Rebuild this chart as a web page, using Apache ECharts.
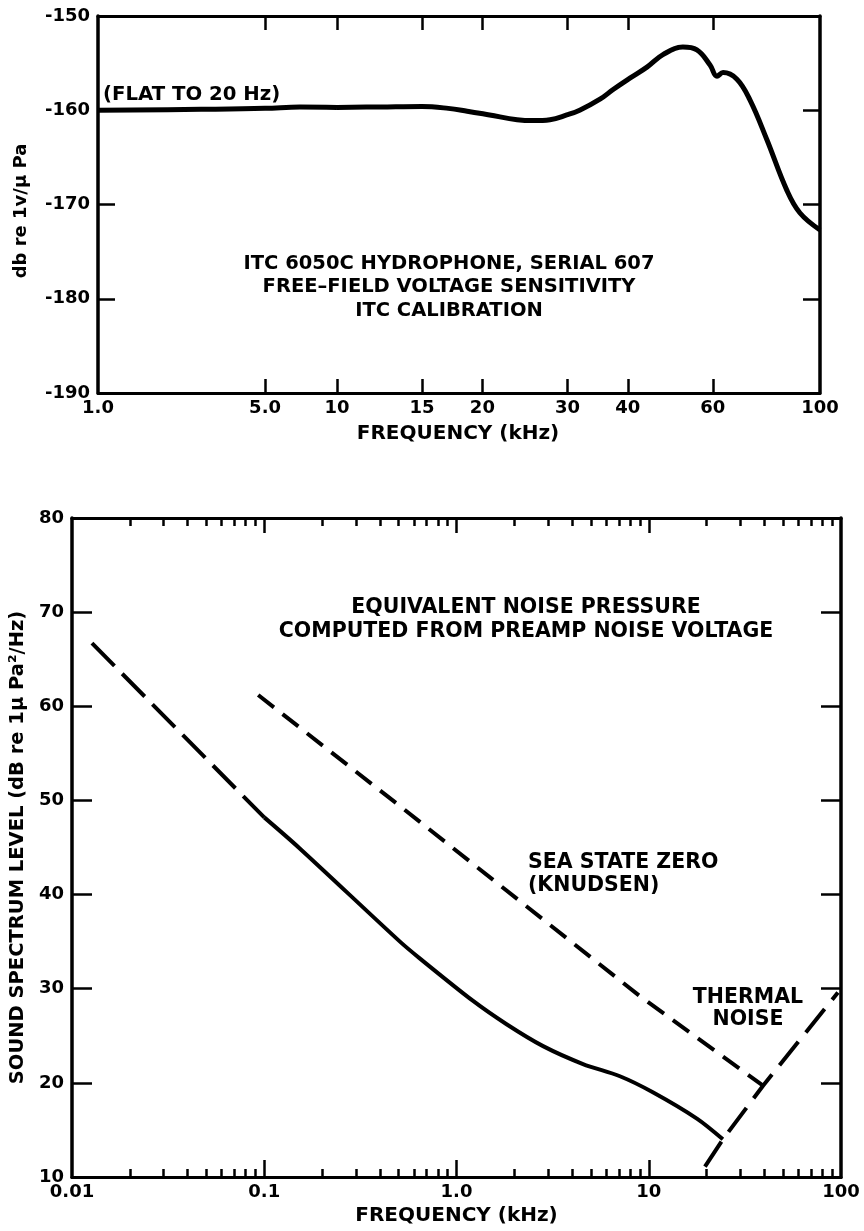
<!DOCTYPE html>
<html>
<head>
<meta charset="utf-8">
<script src="https://cdn.jsdelivr.net/npm/echarts@6/dist/echarts.min.js"></script>
<style>
html,body{margin:0;padding:0;background:#fff;}
#chart{width:864px;height:1231px;}
</style>
</head>
<body>
<div id="chart"></div>
<script>
// ---------- DATA ----------
// Top chart: ITC 6050C free-field voltage sensitivity
const topFreqKHz = [1, 2.7, 5, 7, 10, 12.3, 15, 17, 18.6, 20.7, 23.6, 25.5, 27.6, 29.9, 31.8, 35.1, 37.3, 40.4, 43.9, 47.3, 52, 55.6, 59.2, 61.2, 63, 67.3, 71.6, 77.6, 85.4, 90.9, 100];
const topSensitivity = [-160, -159.9, -159.8, -159.65, -159.7, -159.65, -159.6, -159.8, -160.1, -160.5, -161.0, -161.1, -161.0, -160.5, -160.0, -158.8, -157.8, -156.6, -155.4, -154.1, -153.3, -153.6, -155.2, -156.4, -156.0, -156.7, -158.9, -163.1, -168.5, -170.9, -172.7];
const topXTickValues = [5, 10, 15, 20, 30, 40, 60];
const topXLabelValues = [1, 5, 10, 15, 20, 30, 40, 60, 100];
const topXLabels = ['1.0', '5.0', '10', '15', '20', '30', '40', '60', '100'];

// Bottom chart: sound spectrum levels
const preampExtrapFreq = [0.0127, 0.1];
const preampExtrapLevel = [66.7, 48.2];
const preampFreq = [0.1, 0.153, 0.508, 0.646, 1.22, 1.83, 2.82, 4.55, 7.08, 10.5, 17.8, 24.3];
const preampLevel = [48.2, 44.9, 35.0, 33.2, 28.7, 26.2, 23.9, 22.0, 20.7, 19.0, 16.2, 14.0];
const seaStateFreq = [0.093, 0.508, 9.0, 39.3];
const seaStateLevel = [61.2, 49.4, 29.2, 19.7];
const thermalFreq = [19.6, 24.3, 39.3, 96.4];
const thermalLevel = [11.1, 14.0, 19.7, 29.6];
const botMajorTicks = [0.1, 1, 10];
const botMinorTicks = [0.02, 0.03, 0.04, 0.05, 0.06, 0.07, 0.08, 0.09,
                       0.2, 0.3, 0.4, 0.5, 0.6, 0.7, 0.8, 0.9,
                       2, 3, 4, 5, 6, 7, 8, 9,
                       20, 30, 40, 50, 60, 70, 80, 90];
const botXLabelValues = [0.01, 0.1, 1, 10, 100];
const botXLabels = ['0.01', '0.1', '1.0', '10', '100'];

// ---------- CHART ----------
const FONT = '"DejaVu Sans", "Liberation Sans", Arial, sans-serif';
const BLACK = '#000';
const pair = (xs, ys) => xs.map((x, i) => [x, ys[i]]);
const topPts = pair(topFreqKHz, topSensitivity);

function labelFmt(vals, labels) {
  return function (v) {
    for (let i = 0; i < vals.length; i++) {
      if (Math.abs(vals[i] - v) <= 1e-6 * vals[i]) return labels[i];
    }
    return '';
  };
}

const labelStyle = { color: BLACK, fontFamily: FONT, fontWeight: 'bold', fontSize: 18 };

function logX(gridIndex, position, min, max, ticks, tickLen, labelVals, labels) {
  return {
    type: 'log', logBase: 10, gridIndex, position, min, max,
    axisLine: { show: true, lineStyle: { color: BLACK, width: 3 } },
    axisTick: { show: true, inside: true, length: tickLen, customValues: ticks,
                lineStyle: { color: BLACK, width: 2.5 } },
    axisLabel: labelVals ? Object.assign({ show: true, margin: 6, customValues: labelVals,
                formatter: labelFmt(labelVals, labels) }, labelStyle) : { show: false },
    splitLine: { show: false }, minorTick: { show: false }
  };
}
function linY(gridIndex, position, min, max, tickLen, showLabels) {
  return {
    type: 'value', gridIndex, position, min, max, interval: 10,
    axisLine: { show: true, lineStyle: { color: BLACK, width: 3.5 } },
    axisTick: { show: true, inside: true, length: tickLen, lineStyle: { color: BLACK, width: 2.5 } },
    axisLabel: showLabels ? Object.assign({ show: true, margin: 8 }, labelStyle) : { show: false },
    splitLine: { show: false }
  };
}

const option = {
  animation: false,
  backgroundColor: '#fff',
  grid: [
    { left: 98, top: 16, width: 239, height: 377 },
    { left: 337, top: 16, width: 483, height: 377 },
    { left: 72, top: 518, width: 769, height: 660 }
  ],
  xAxis: [
    logX(0, 'bottom', 1, 10, [5, 10], 14, [1, 5], topXLabels.slice(0, 2)),
    logX(0, 'top', 1, 10, [5, 10], 14, null),
    logX(1, 'bottom', 10, 100, topXTickValues.slice(1), 14, topXLabelValues.slice(2), topXLabels.slice(2)),
    logX(1, 'top', 10, 100, topXTickValues.slice(1), 14, null),
    Object.assign(logX(2, 'bottom', 0.01, 100, botMajorTicks, 17, botXLabelValues, botXLabels), {
      name: 'FREQUENCY (kHz)', nameLocation: 'middle', nameGap: 29,
      nameTextStyle: { color: BLACK, fontFamily: FONT, fontWeight: 'bold', fontSize: 20 }
    }),
    logX(2, 'bottom', 0.01, 100, botMinorTicks, 8, null),
    logX(2, 'top', 0.01, 100, botMajorTicks, 15, null),
    logX(2, 'top', 0.01, 100, botMinorTicks, 8, null)
  ],
  yAxis: [
    linY(0, 'left', -190, -150, 17, true),
    linY(1, 'right', -190, -150, 17, false),
    Object.assign(linY(2, 'left', 10, 80, 20, true), {
      name: 'SOUND SPECTRUM LEVEL (dB re 1\u03bc Pa\u00b2/Hz)', nameLocation: 'middle', nameRotate: 90, nameGap: 38,
      nameTextStyle: { color: BLACK, fontFamily: FONT, fontWeight: 'bold', fontSize: 19.5 }
    }),
    linY(2, 'right', 10, 80, 20, false)
  ],
  series: [
    { type: 'line', xAxisIndex: 0, yAxisIndex: 0, data: topPts.filter(p => p[0] <= 10),
      smooth: 0.4, symbol: 'none', lineStyle: { color: BLACK, width: 5 } },
    { type: 'line', xAxisIndex: 2, yAxisIndex: 1, data: topPts.filter(p => p[0] >= 10),
      smooth: 0.4, symbol: 'none', lineStyle: { color: BLACK, width: 5 } },
    { type: 'line', xAxisIndex: 4, yAxisIndex: 2, data: pair(preampExtrapFreq, preampExtrapLevel),
      symbol: 'none', lineStyle: { color: BLACK, width: 4, type: [32, 11] } },
    { type: 'line', xAxisIndex: 4, yAxisIndex: 2, data: pair(preampFreq, preampLevel),
      smooth: 0.3, symbol: 'none', lineStyle: { color: BLACK, width: 4 } },
    { type: 'line', xAxisIndex: 4, yAxisIndex: 2, data: pair(seaStateFreq, seaStateLevel),
      symbol: 'none', lineStyle: { color: BLACK, width: 4, type: [20, 11] } },
    { type: 'line', xAxisIndex: 4, yAxisIndex: 2, data: pair(thermalFreq, thermalLevel),
      symbol: 'none', lineStyle: { color: BLACK, width: 4, type: [30, 12] } }
  ],
  graphic: [
    { type: 'text', x: 21, y: 211, rotation: Math.PI / 2, style: { text: 'db re 1v/\u03bc Pa', fill: BLACK,
      font: 'bold 18px ' + FONT, align: 'center', verticalAlign: 'middle' } },
    { type: 'text', x: 103, y: 95, style: { text: '(FLAT TO 20 Hz)', fill: BLACK,
      font: 'bold 19.7px ' + FONT, align: 'left', verticalAlign: 'middle' } },
    { type: 'text', x: 449, y: 287, style: { text: 'ITC 6050C HYDROPHONE, SERIAL 607\nFREE\u2013FIELD VOLTAGE SENSITIVITY\nITC CALIBRATION',
      fill: BLACK, font: 'bold 19.5px ' + FONT, lineHeight: 23.5, align: 'center', verticalAlign: 'middle' } },
    { type: 'text', x: 458, y: 434, style: { text: 'FREQUENCY (kHz)', fill: BLACK,
      font: 'bold 20px ' + FONT, align: 'center', verticalAlign: 'middle' } },
    { type: 'text', x: 526, y: 620, style: { text: 'EQUIVALENT NOISE PRESSURE\nCOMPUTED FROM PREAMP NOISE VOLTAGE',
      fill: BLACK, font: 'bold 20.5px ' + FONT, lineHeight: 24, align: 'center', verticalAlign: 'middle' } },
    { type: 'text', x: 528, y: 874, style: { text: 'SEA STATE ZERO\n(KNUDSEN)', fill: BLACK,
      font: 'bold 20.5px ' + FONT, lineHeight: 23, align: 'left', verticalAlign: 'middle' } },
    { type: 'text', x: 748, y: 1009, style: { text: 'THERMAL\nNOISE', fill: BLACK,
      font: 'bold 20.5px ' + FONT, lineHeight: 22, align: 'center', verticalAlign: 'middle' } }
  ]
};

const chart = echarts.init(document.getElementById('chart'), null, { renderer: 'canvas' });
chart.setOption(option);
</script>
</body>
</html>
